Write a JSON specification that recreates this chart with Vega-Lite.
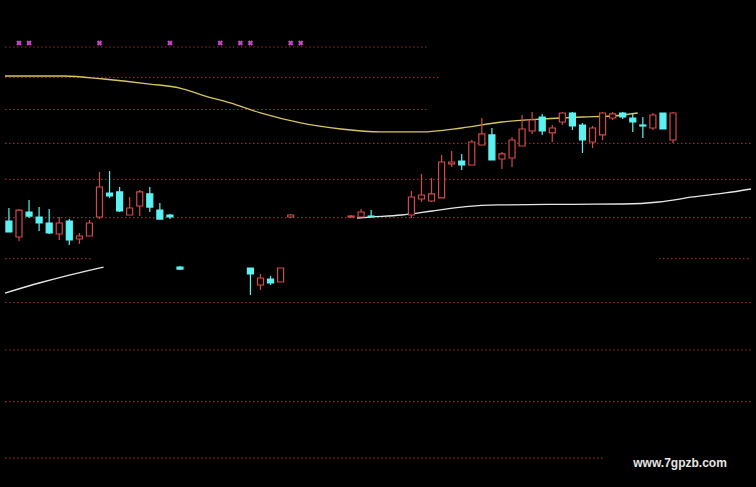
{
  "$schema": "https://vega.github.io/schema/vega-lite/v6.json",
  "width": 756,
  "height": 487,
  "autosize": {"type": "fit", "contains": "padding"},
  "padding": 0,
  "background": "#000000",
  "config": {"view": {"stroke": null}},
  "datasets": {
    "grid": [
      {"p": 20, "a": -0.39, "b": 41.5},
      {"p": 19, "a": -0.39, "b": 42.8},
      {"p": 18, "a": -0.39, "b": 41.5},
      {"p": 17, "a": -0.39, "b": 73.75},
      {"p": 16, "a": -0.39, "b": 73.75},
      {"p": 15, "a": -0.39, "b": 73.75},
      {"p": 14, "a": -0.39, "b": 8.2},
      {"p": 14, "a": 64.6, "b": 73.75},
      {"p": 13, "a": -0.39, "b": 73.75},
      {"p": 12, "a": -0.39, "b": 73.75},
      {"p": 11, "a": -0.39, "b": 73.75},
      {"p": 10, "a": -0.39, "b": 59.1}
    ],
    "ma": [
      {"s": "y", "i": -0.39, "p": 19.046},
      {"s": "y", "i": 5.5, "p": 19.046},
      {"s": "y", "i": 9.4, "p": 18.95},
      {"s": "y", "i": 11.4, "p": 18.886},
      {"s": "y", "i": 14, "p": 18.79},
      {"s": "y", "i": 17, "p": 18.664},
      {"s": "y", "i": 19.2, "p": 18.445},
      {"s": "y", "i": 22, "p": 18.199},
      {"s": "y", "i": 25, "p": 17.895},
      {"s": "y", "i": 29, "p": 17.596},
      {"s": "y", "i": 33, "p": 17.418},
      {"s": "y", "i": 37, "p": 17.331},
      {"s": "y", "i": 41, "p": 17.331},
      {"s": "y", "i": 45, "p": 17.448},
      {"s": "y", "i": 49, "p": 17.625},
      {"s": "y", "i": 53, "p": 17.714},
      {"s": "y", "i": 57, "p": 17.774},
      {"s": "y", "i": 60, "p": 17.804},
      {"s": "y", "i": 62.5, "p": 17.895},
      {"s": "w1", "i": -0.39, "p": 13.21},
      {"s": "w1", "i": 3, "p": 13.435},
      {"s": "w1", "i": 6, "p": 13.617},
      {"s": "w1", "i": 9.4, "p": 13.802},
      {"s": "w2", "i": 34.6, "p": 14.991},
      {"s": "w2", "i": 36, "p": 15.016},
      {"s": "w2", "i": 39, "p": 15.067},
      {"s": "w2", "i": 42.1, "p": 15.169},
      {"s": "w2", "i": 45.4, "p": 15.279},
      {"s": "w2", "i": 48.6, "p": 15.324},
      {"s": "w2", "i": 56, "p": 15.342},
      {"s": "w2", "i": 61, "p": 15.349},
      {"s": "w2", "i": 64.6, "p": 15.401},
      {"s": "w2", "i": 68, "p": 15.532},
      {"s": "w2", "i": 71.2, "p": 15.637},
      {"s": "w2", "i": 73.75, "p": 15.743}
    ],
    "marks": [
      {"i": 1, "p": 20.136},
      {"i": 2, "p": 20.136},
      {"i": 9, "p": 20.136},
      {"i": 16, "p": 20.136},
      {"i": 21, "p": 20.136},
      {"i": 23, "p": 20.136},
      {"i": 24, "p": 20.136},
      {"i": 28, "p": 20.136},
      {"i": 29, "p": 20.136}
    ],
    "k": [
      {"i": 0, "o": 14.915, "h": 15.246, "l": 14.642, "c": 14.642, "d": "d"},
      {"i": 1, "o": 14.519, "h": 15.22, "l": 14.421, "c": 15.194, "d": "u"},
      {"i": 2, "o": 15.143, "h": 15.453, "l": 14.991, "c": 15.041, "d": "d"},
      {"i": 3, "o": 15.016, "h": 15.271, "l": 14.666, "c": 14.865, "d": "d"},
      {"i": 4, "o": 14.865, "h": 15.22, "l": 14.592, "c": 14.617, "d": "d"},
      {"i": 5, "o": 14.592, "h": 15.016, "l": 14.445, "c": 14.865, "d": "u"},
      {"i": 6, "o": 14.915, "h": 14.965, "l": 14.324, "c": 14.445, "d": "d"},
      {"i": 7, "o": 14.47, "h": 14.617, "l": 14.348, "c": 14.543, "d": "u"},
      {"i": 8, "o": 14.543, "h": 14.94, "l": 14.543, "c": 14.865, "d": "u"},
      {"i": 9, "o": 15.016, "h": 16.201, "l": 14.965, "c": 15.796, "d": "u"},
      {"i": 10, "o": 15.637, "h": 16.228, "l": 15.506, "c": 15.558, "d": "d"},
      {"i": 11, "o": 15.664, "h": 15.796, "l": 15.143, "c": 15.169, "d": "d"},
      {"i": 12, "o": 15.067, "h": 15.532, "l": 15.067, "c": 15.246, "d": "u"},
      {"i": 13, "o": 15.297, "h": 15.716, "l": 15.041, "c": 15.664, "d": "u"},
      {"i": 14, "o": 15.611, "h": 15.796, "l": 15.143, "c": 15.271, "d": "d"},
      {"i": 15, "o": 15.194, "h": 15.375, "l": 14.965, "c": 14.965, "d": "d"},
      {"i": 16, "o": 15.067, "h": 15.092, "l": 14.965, "c": 15.016, "d": "d"},
      {"i": 17, "o": 13.802, "h": 13.826, "l": 13.732, "c": 13.755, "d": "d"},
      {"i": 24, "o": 13.779, "h": 13.779, "l": 13.166, "c": 13.64, "d": "d"},
      {"i": 25, "o": 13.39, "h": 13.64, "l": 13.277, "c": 13.549, "d": "u"},
      {"i": 26, "o": 13.526, "h": 13.595, "l": 13.39, "c": 13.435, "d": "d"},
      {"i": 27, "o": 13.458, "h": 13.779, "l": 13.458, "c": 13.779, "d": "u"},
      {"i": 28, "o": 15.016, "h": 15.092, "l": 14.991, "c": 15.067, "d": "u"},
      {"i": 34, "o": 15.016, "h": 15.067, "l": 14.991, "c": 15.041, "d": "u"},
      {"i": 35, "o": 15.016, "h": 15.22, "l": 15.016, "c": 15.143, "d": "u"},
      {"i": 36, "o": 15.041, "h": 15.194, "l": 15.03, "c": 15.03, "d": "d"},
      {"i": 40, "o": 15.067, "h": 15.69, "l": 14.991, "c": 15.532, "d": "u"},
      {"i": 41, "o": 15.479, "h": 16.146, "l": 15.401, "c": 15.584, "d": "u"},
      {"i": 42, "o": 15.427, "h": 16.037, "l": 15.401, "c": 15.611, "d": "u"},
      {"i": 43, "o": 15.506, "h": 16.672, "l": 15.506, "c": 16.476, "d": "u"},
      {"i": 44, "o": 16.421, "h": 16.784, "l": 16.338, "c": 16.476, "d": "u"},
      {"i": 45, "o": 16.503, "h": 16.7, "l": 16.255, "c": 16.393, "d": "d"},
      {"i": 46, "o": 16.393, "h": 17.098, "l": 16.393, "c": 17.041, "d": "u"},
      {"i": 47, "o": 16.955, "h": 17.744, "l": 16.955, "c": 17.273, "d": "u"},
      {"i": 48, "o": 17.244, "h": 17.448, "l": 16.531, "c": 16.531, "d": "d"},
      {"i": 49, "o": 16.559, "h": 16.756, "l": 16.283, "c": 16.7, "d": "u"},
      {"i": 50, "o": 16.587, "h": 17.185, "l": 16.338, "c": 17.098, "d": "u"},
      {"i": 51, "o": 16.926, "h": 17.834, "l": 16.926, "c": 17.418, "d": "u"},
      {"i": 52, "o": 17.36, "h": 17.925, "l": 17.273, "c": 17.684, "d": "u"},
      {"i": 53, "o": 17.774, "h": 17.865, "l": 17.244, "c": 17.36, "d": "d"},
      {"i": 54, "o": 17.302, "h": 17.536, "l": 17.041, "c": 17.448, "d": "u"},
      {"i": 55, "o": 17.625, "h": 17.925, "l": 17.536, "c": 17.895, "d": "u"},
      {"i": 56, "o": 17.895, "h": 17.925, "l": 17.389, "c": 17.507, "d": "d"},
      {"i": 57, "o": 17.536, "h": 17.596, "l": 16.728, "c": 17.098, "d": "d"},
      {"i": 58, "o": 17.041, "h": 17.507, "l": 16.869, "c": 17.448, "d": "u"},
      {"i": 59, "o": 17.244, "h": 17.925, "l": 17.098, "c": 17.895, "d": "u"},
      {"i": 60, "o": 17.744, "h": 17.925, "l": 17.684, "c": 17.865, "d": "u"},
      {"i": 61, "o": 17.895, "h": 17.925, "l": 17.714, "c": 17.774, "d": "d"},
      {"i": 62, "o": 17.744, "h": 17.895, "l": 17.331, "c": 17.625, "d": "d"},
      {"i": 63, "o": 17.536, "h": 17.774, "l": 17.156, "c": 17.507, "d": "d"},
      {"i": 64, "o": 17.448, "h": 17.895, "l": 17.389, "c": 17.834, "d": "u"},
      {"i": 65, "o": 17.895, "h": 17.895, "l": 17.418, "c": 17.418, "d": "d"},
      {"i": 66, "o": 17.098, "h": 17.925, "l": 17.012, "c": 17.895, "d": "u"}
    ],
    "wm": [
      {"i": 66.7, "p": 9.918, "t": "www.7gpzb.com"}
    ]
  },
  "layer": [
    {
      "data": {"name": "grid"},
      "mark": {"type": "rule", "color": "#962c2c", "strokeWidth": 1.2, "strokeDash": [1.5, 2.5], "opacity": 1},
      "encoding": {
        "x": {"field": "a", "type": "quantitative", "scale": {"domain": [-0.39, 73.75], "nice": false, "zero": false}, "axis": null},
        "x2": {"field": "b"},
        "y": {"field": "p", "type": "quantitative", "scale": {"type": "log", "domain": [9.525, 21.65], "nice": false}, "axis": null}
      }
    },
    {
      "data": {"name": "ma"},
      "mark": {"type": "line", "strokeWidth": 1.3, "interpolate": "monotone"},
      "encoding": {
        "x": {"field": "i", "type": "quantitative", "scale": {"domain": [-0.39, 73.75], "nice": false, "zero": false}, "axis": null},
        "y": {"field": "p", "type": "quantitative", "scale": {"type": "log", "domain": [9.525, 21.65], "nice": false}, "axis": null},
        "detail": {"field": "s"},
        "color": {"field": "s", "type": "nominal", "scale": {"domain": ["y", "w1", "w2"], "range": ["#d6c55c", "#e6e6e6", "#e6e6e6"]}, "legend": null}
      }
    },
    {
      "data": {"name": "marks"},
      "mark": {"type": "point", "shape": "cross", "angle": 45, "filled": true, "size": 30, "color": "#c845c8", "opacity": 1},
      "encoding": {
        "x": {"field": "i", "type": "quantitative", "scale": {"domain": [-0.39, 73.75], "nice": false, "zero": false}, "axis": null},
        "y": {"field": "p", "type": "quantitative", "scale": {"type": "log", "domain": [9.525, 21.65], "nice": false}, "axis": null}
      }
    },
    {
      "data": {"name": "k"},
      "mark": {"type": "rule", "strokeWidth": 1.2},
      "encoding": {
        "x": {"field": "i", "type": "quantitative", "scale": {"domain": [-0.39, 73.75], "nice": false, "zero": false}, "axis": null},
        "y": {"field": "l", "type": "quantitative", "scale": {"type": "log", "domain": [9.525, 21.65], "nice": false}, "axis": null},
        "y2": {"field": "h"},
        "stroke": {"field": "d", "type": "nominal", "scale": {"domain": ["u", "d"], "range": ["#d24a4a", "#5cf2f2"]}, "legend": null}
      }
    },
    {
      "data": {"name": "k"},
      "mark": {"type": "bar", "size": 6, "strokeWidth": 1.2},
      "encoding": {
        "x": {"field": "i", "type": "quantitative", "scale": {"domain": [-0.39, 73.75], "nice": false, "zero": false}, "axis": null},
        "y": {"field": "o", "type": "quantitative", "scale": {"type": "log", "domain": [9.525, 21.65], "nice": false}, "axis": null},
        "y2": {"field": "c"},
        "stroke": {"field": "d", "type": "nominal", "scale": {"domain": ["u", "d"], "range": ["#d24a4a", "#5cf2f2"]}, "legend": null},
        "fill": {"field": "d", "type": "nominal", "scale": {"domain": ["u", "d"], "range": ["#000000", "#5cf2f2"]}, "legend": null}
      }
    },
    {
      "data": {"name": "wm"},
      "mark": {"type": "text", "font": "Liberation Sans", "fontSize": 12, "fontWeight": "bold", "color": "#e6e6e6", "align": "center", "baseline": "middle"},
      "encoding": {
        "x": {"field": "i", "type": "quantitative", "scale": {"domain": [-0.39, 73.75], "nice": false, "zero": false}, "axis": null},
        "y": {"field": "p", "type": "quantitative", "scale": {"type": "log", "domain": [9.525, 21.65], "nice": false}, "axis": null},
        "text": {"field": "t"}
      }
    }
  ]
}
